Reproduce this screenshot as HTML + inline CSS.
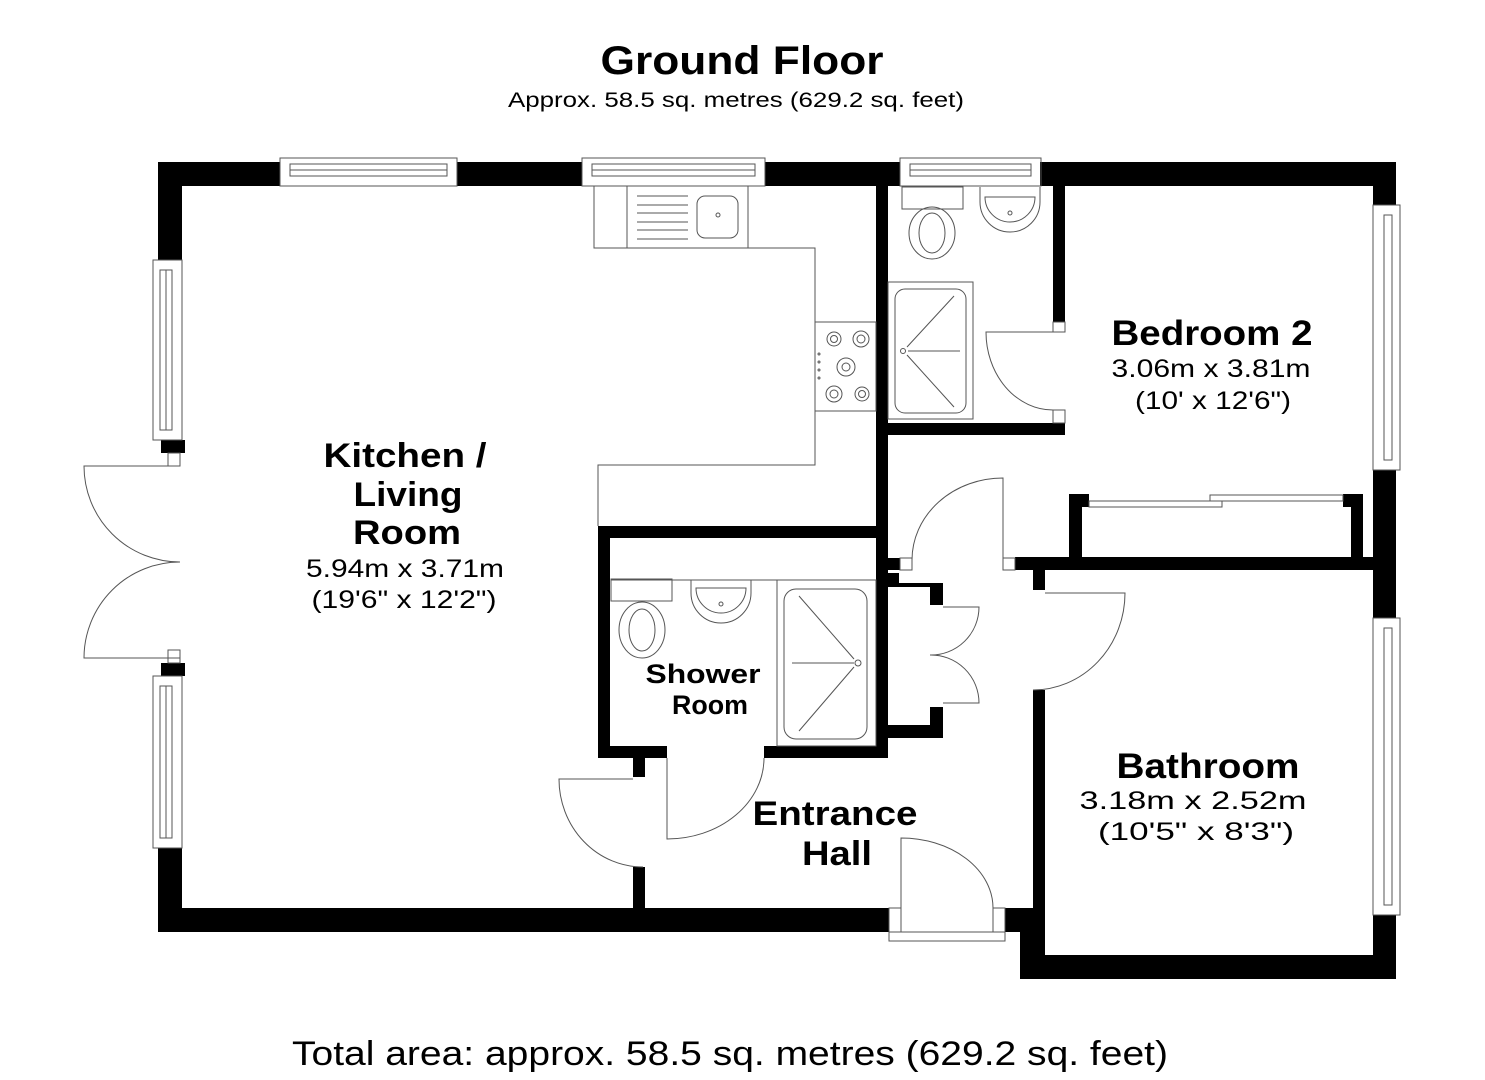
<!DOCTYPE html>
<html><head><meta charset="utf-8"><style>
html,body{margin:0;padding:0;background:#fff;}
svg{display:block;}
text{font-family:"Liberation Sans",Arial,sans-serif;fill:#000;text-anchor:middle;}
.b{font-weight:bold;}
</style></head><body>
<svg width="1485" height="1080" viewBox="0 0 1485 1080" xmlns="http://www.w3.org/2000/svg">
<rect width="1485" height="1080" fill="#fff"/>
<g fill="#000">
<rect x="158" y="162" width="122" height="24"/>
<rect x="457" y="162" width="125" height="24"/>
<rect x="765" y="162" width="135" height="24"/>
<rect x="1040" y="162" width="356" height="24"/>
<rect x="158" y="162" width="24" height="98"/>
<rect x="161" y="440" width="24" height="13"/>
<rect x="161" y="663" width="24" height="13"/>
<rect x="158" y="848" width="24" height="84"/>
<rect x="158" y="908" width="731" height="24"/>
<rect x="1005" y="908" width="40" height="24"/>
<rect x="1020" y="908" width="25" height="71"/>
<rect x="1020" y="955" width="376" height="24"/>
<rect x="1373" y="162" width="23" height="43"/>
<rect x="1373" y="470" width="23" height="148"/>
<rect x="1373" y="915" width="23" height="64"/>
<rect x="876" y="186" width="12" height="572"/>
<rect x="1053" y="186" width="12" height="136"/>
<rect x="876" y="423" width="189" height="12"/>
<rect x="598" y="526" width="290" height="12"/>
<rect x="598" y="526" width="12" height="232"/>
<rect x="598" y="746" width="69" height="12"/>
<rect x="764" y="746" width="124" height="12"/>
<rect x="633" y="758" width="12" height="19"/>
<rect x="633" y="867" width="12" height="41"/>
<rect x="888" y="558" width="12" height="12"/>
<rect x="888" y="573" width="11" height="10"/>
<rect x="888" y="583" width="55" height="4"/>
<rect x="930" y="583" width="13" height="22"/>
<rect x="930" y="707" width="13" height="31"/>
<rect x="888" y="725" width="55" height="13"/>
<rect x="1015" y="557" width="381" height="13"/>
<rect x="1033" y="570" width="12" height="20"/>
<rect x="1033" y="690" width="12" height="289"/>
<rect x="1069" y="494" width="13" height="64"/>
<rect x="1069" y="494" width="20" height="13"/>
<rect x="1343" y="494" width="20" height="13"/>
<rect x="1351" y="494" width="12" height="64"/>
</g>
<g fill="none" stroke="#555" stroke-width="1">
<rect x="280" y="158" width="177" height="28"/><rect x="290" y="164" width="157" height="12"/><line x1="290" y1="170" x2="447" y2="170"/>
<rect x="582" y="158" width="183" height="28"/><rect x="592" y="164" width="163" height="12"/><line x1="592" y1="170" x2="755" y2="170"/>
<rect x="900" y="158" width="141" height="28"/><rect x="910" y="164" width="121" height="12"/><line x1="910" y1="170" x2="1031" y2="170"/>
<rect x="153" y="260" width="29" height="180"/><rect x="160" y="270" width="12" height="160"/><line x1="166" y1="270" x2="166" y2="430"/>
<rect x="153" y="676" width="29" height="172"/><rect x="160" y="686" width="12" height="152"/><line x1="166" y1="686" x2="166" y2="838"/>
<rect x="168" y="453" width="12" height="13"/><rect x="168" y="650" width="12" height="13"/>
<path d="M180 466 H84 A96 96 0 0 0 180 562"/>
<path d="M180 658 H84 A96 96 0 0 1 180 562"/>
<rect x="1373" y="205" width="27" height="265"/><rect x="1384" y="215" width="8" height="245"/>
<rect x="1373" y="618" width="27" height="297"/><rect x="1384" y="628" width="8" height="277"/>
<rect x="594" y="186" width="154" height="62"/><line x1="627" y1="186" x2="627" y2="248"/>
<g><line x1="637" y1="196" x2="688" y2="196"/><line x1="637" y1="205" x2="688" y2="205"/><line x1="637" y1="213" x2="688" y2="213"/><line x1="637" y1="222" x2="688" y2="222"/><line x1="637" y1="230" x2="688" y2="230"/><line x1="637" y1="239" x2="688" y2="239"/></g>
<rect x="697" y="196" width="41" height="42" rx="8"/><circle cx="718" cy="215" r="2"/>
<path d="M748 248 H815 V465 H598 V526"/>
<rect x="815" y="322" width="61" height="89"/>
<circle cx="834" cy="339" r="7"/><circle cx="834" cy="339" r="3.5"/>
<circle cx="861" cy="339" r="8"/><circle cx="861" cy="339" r="4"/>
<circle cx="846" cy="367" r="9"/><circle cx="846" cy="367" r="4"/>
<circle cx="834" cy="394" r="8"/><circle cx="834" cy="394" r="4"/>
<circle cx="862" cy="394" r="7"/><circle cx="862" cy="394" r="3.5"/>
<circle cx="819" cy="354" r="1"/><circle cx="819" cy="362" r="1"/><circle cx="819" cy="370" r="1"/><circle cx="819" cy="378" r="1"/>
<rect x="902" y="187" width="61" height="22"/>
<ellipse cx="932" cy="233" rx="23" ry="26"/><ellipse cx="932" cy="233" rx="13" ry="20"/>
<path d="M980 187 V202 A30 30 0 0 0 1040 202 V187"/><path d="M985 197 A25 25 0 0 0 1035 197 Z"/><circle cx="1010" cy="213" r="2"/>
<rect x="888" y="282" width="85" height="137"/><rect x="895" y="289" width="71" height="124" rx="10"/>
<circle cx="903" cy="351" r="2.5"/>
<path d="M907 347 L954 296 M908 351 H960 M907 355 L954 407"/>
<rect x="1053" y="322" width="12" height="10"/><rect x="1053" y="410" width="12" height="13"/>
<path d="M1053 332 H986 A67 78 0 0 0 1053 410"/>
<rect x="1089" y="501" width="133" height="6"/><rect x="1210" y="495" width="133" height="6"/>
<line x1="611" y1="580" x2="777" y2="580"/>
<rect x="611" y="579" width="61" height="22"/>
<ellipse cx="642" cy="630" rx="23" ry="28"/><ellipse cx="642" cy="630" rx="13" ry="21"/>
<path d="M691 580 V593 A30 30 0 0 0 751 593 V580"/><path d="M696 588 A25 25 0 0 0 746 588 Z"/><circle cx="721" cy="604" r="2"/>
<rect x="777" y="580" width="99" height="166"/><rect x="784" y="589" width="83" height="150" rx="12"/>
<circle cx="858" cy="663" r="3"/>
<path d="M854 659 L799 596 M854 663 H792 M854 667 L799 731"/>
<path d="M667 758 V839 A97 81 0 0 0 764 758"/>
<path d="M633 779 H559 A84 88 0 0 0 643 867"/>
<rect x="900" y="558" width="12" height="12"/><rect x="1003" y="558" width="12" height="12"/>
<path d="M912 560 A91 82 0 0 1 1003 478 V558"/>
<path d="M943 607 H979 A48 48 0 0 1 930 655"/>
<path d="M943 703 H979 A48 48 0 0 0 930 655"/>
<path d="M1045 593 H1125 A92 97 0 0 1 1033 690"/>
<rect x="889" y="908" width="12" height="24"/><rect x="993" y="908" width="12" height="24"/>
<rect x="889" y="932" width="116" height="9"/>
<path d="M901 908 V838 A92 70 0 0 1 993 908"/>
</g>
<g>
<text x="742" y="74" class="b" font-size="40" textLength="283" lengthAdjust="spacingAndGlyphs">Ground Floor</text>
<text x="736" y="107" font-size="21" textLength="456" lengthAdjust="spacingAndGlyphs">Approx. 58.5 sq. metres (629.2 sq. feet)</text>
<text x="405" y="467" class="b" font-size="34" textLength="163" lengthAdjust="spacingAndGlyphs">Kitchen /</text>
<text x="408" y="506" class="b" font-size="34" textLength="109" lengthAdjust="spacingAndGlyphs">Living</text>
<text x="407" y="544" class="b" font-size="34" textLength="108" lengthAdjust="spacingAndGlyphs">Room</text>
<text x="405" y="577" font-size="25" textLength="198" lengthAdjust="spacingAndGlyphs">5.94m x 3.71m</text>
<text x="404" y="608" font-size="25" textLength="185" lengthAdjust="spacingAndGlyphs">(19'6" x 12'2")</text>
<text x="1212" y="345" class="b" font-size="35" textLength="201" lengthAdjust="spacingAndGlyphs">Bedroom 2</text>
<text x="1211" y="377" font-size="25" textLength="199" lengthAdjust="spacingAndGlyphs">3.06m x 3.81m</text>
<text x="1213" y="409" font-size="25" textLength="156" lengthAdjust="spacingAndGlyphs">(10' x 12'6")</text>
<text x="703" y="683" class="b" font-size="27" textLength="115" lengthAdjust="spacingAndGlyphs">Shower</text>
<text x="710" y="714" class="b" font-size="27" textLength="76" lengthAdjust="spacingAndGlyphs">Room</text>
<text x="835" y="825" class="b" font-size="34" textLength="165" lengthAdjust="spacingAndGlyphs">Entrance</text>
<text x="837" y="865" class="b" font-size="34" textLength="70" lengthAdjust="spacingAndGlyphs">Hall</text>
<text x="1208" y="778" class="b" font-size="35" textLength="183" lengthAdjust="spacingAndGlyphs">Bathroom</text>
<text x="1193" y="809" font-size="25" textLength="227" lengthAdjust="spacingAndGlyphs">3.18m x 2.52m</text>
<text x="1196" y="840" font-size="25" textLength="196" lengthAdjust="spacingAndGlyphs">(10'5" x 8'3")</text>
<text x="730" y="1065" font-size="34" textLength="876" lengthAdjust="spacingAndGlyphs">Total area: approx. 58.5 sq. metres (629.2 sq. feet)</text>
</g>
</svg>
</body></html>
